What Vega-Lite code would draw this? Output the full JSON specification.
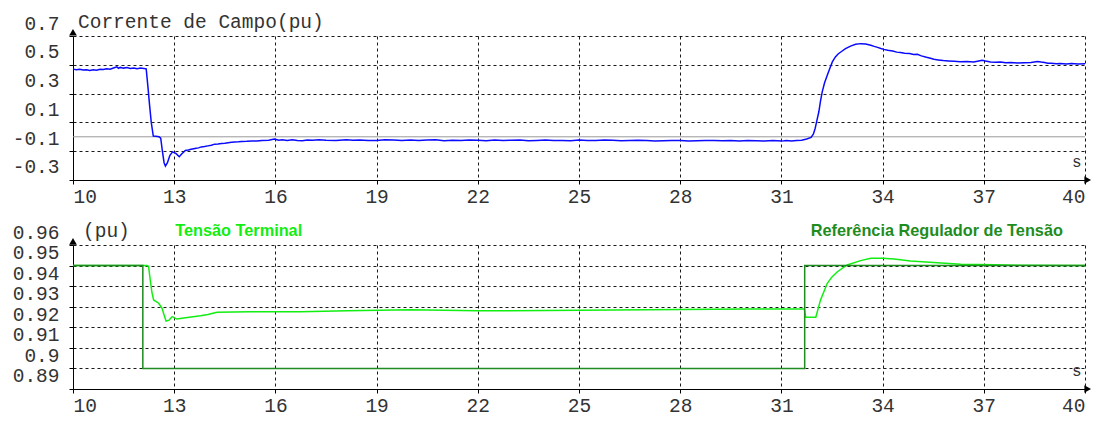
{
  "$schema": "https://vega.github.io/schema/vega-lite/v6.json",
  "background": "white",
  "padding": {"left": 12, "top": 12, "right": 5, "bottom": 2},
  "spacing": 15,
  "config": {
    "view": {"stroke": null},
    "axis": {
      "labelFont": "Liberation Mono", "labelFontSize": 19.5, "labelColor": "#333333", "labelOverlap": false,
      "domainColor": "#000000", "domainWidth": 1, "tickColor": "#000000", "tickSize": 4, "tickWidth": 1, "tickCount": 40,
      "grid": true, "gridColor": "#000000", "gridDash": [3, 3], "gridWidth": 1, "gridOpacity": 0.9
    },
    "axisX": {
      "labelPadding": 3, "titleFont": "Liberation Mono", "titleFontSize": 16, "titleFontWeight": "normal",
      "titleColor": "#333333", "titleAnchor": "end", "titleAlign": "right", "titleBaseline": "alphabetic",
      "titleX": 1008, "titleY": -14
    },
    "axisY": {"labelPadding": 10, "labelOffset": -13, "minExtent": 61, "maxExtent": 61, "title": null, "labelOverlap": false}
  },
  "datasets": {
    "campo": [
      {"t": 10.0, "v": 0.470}, {"t": 10.1, "v": 0.466}, {"t": 10.2, "v": 0.469}, {"t": 10.3, "v": 0.464}, {"t": 10.4, "v": 0.466}, {"t": 10.5, "v": 0.461}, {"t": 10.6, "v": 0.465},
      {"t": 10.7, "v": 0.463}, {"t": 10.8, "v": 0.469}, {"t": 10.9, "v": 0.467}, {"t": 11.0, "v": 0.473}, {"t": 11.1, "v": 0.470}, {"t": 11.2, "v": 0.478}, {"t": 11.3, "v": 0.486},
      {"t": 11.35, "v": 0.476}, {"t": 11.4, "v": 0.482}, {"t": 11.5, "v": 0.477}, {"t": 11.6, "v": 0.481}, {"t": 11.7, "v": 0.475}, {"t": 11.8, "v": 0.478}, {"t": 11.9, "v": 0.473},
      {"t": 12.0, "v": 0.477}, {"t": 12.1, "v": 0.474}, {"t": 12.17, "v": 0.472}, {"t": 12.22, "v": 0.35}, {"t": 12.27, "v": 0.22},
      {"t": 12.32, "v": 0.10}, {"t": 12.38, "v": 0.005}, {"t": 12.45, "v": 0.004}, {"t": 12.55, "v": 0.0},
      {"t": 12.6, "v": -0.01}, {"t": 12.65, "v": -0.10}, {"t": 12.7, "v": -0.18}, {"t": 12.74, "v": -0.203},
      {"t": 12.8, "v": -0.18}, {"t": 12.87, "v": -0.13}, {"t": 12.95, "v": -0.105}, {"t": 13.05, "v": -0.115},
      {"t": 13.15, "v": -0.138}, {"t": 13.22, "v": -0.12}, {"t": 13.33, "v": -0.095}, {"t": 13.42, "v": -0.092}, {"t": 13.5, "v": -0.087},
      {"t": 13.58, "v": -0.083}, {"t": 13.65, "v": -0.080}, {"t": 13.72, "v": -0.077}, {"t": 13.8, "v": -0.070}, {"t": 13.9, "v": -0.068}, {"t": 14.0, "v": -0.063}, {"t": 14.1, "v": -0.058}, {"t": 14.2, "v": -0.051},
      {"t": 14.3, "v": -0.050}, {"t": 14.4, "v": -0.046}, {"t": 14.5, "v": -0.044}, {"t": 14.6, "v": -0.041}, {"t": 14.7, "v": -0.038}, {"t": 14.8, "v": -0.036}, {"t": 14.9, "v": -0.035}, {"t": 15.0, "v": -0.032},
      {"t": 15.15, "v": -0.031}, {"t": 15.3, "v": -0.029}, {"t": 15.45, "v": -0.030}, {"t": 15.6, "v": -0.026}, {"t": 15.8, "v": -0.024}, {"t": 15.97, "v": -0.016}, {"t": 16.1, "v": -0.024}, {"t": 16.2, "v": -0.021},
      {"t": 16.35, "v": -0.026}, {"t": 16.5, "v": -0.021}, {"t": 16.65, "v": -0.025}, {"t": 16.8, "v": -0.028}, {"t": 16.95, "v": -0.022}, {"t": 17.1, "v": -0.024}, {"t": 17.3, "v": -0.020}, {"t": 17.5, "v": -0.024},
      {"t": 17.8, "v": -0.025}, {"t": 18.1, "v": -0.020}, {"t": 18.3, "v": -0.024}, {"t": 18.5, "v": -0.022}, {"t": 18.75, "v": -0.025}, {"t": 19.0, "v": -0.026},
      {"t": 19.25, "v": -0.021}, {"t": 19.5, "v": -0.023}, {"t": 19.75, "v": -0.026}, {"t": 20.0, "v": -0.022}, {"t": 20.25, "v": -0.025}, {"t": 20.5, "v": -0.023}, {"t": 20.75, "v": -0.021}, {"t": 21.0, "v": -0.027},
      {"t": 21.25, "v": -0.024}, {"t": 21.5, "v": -0.026}, {"t": 21.75, "v": -0.022}, {"t": 22.0, "v": -0.024}, {"t": 22.25, "v": -0.027}, {"t": 22.5, "v": -0.023}, {"t": 22.75, "v": -0.025}, {"t": 23.0, "v": -0.024},
      {"t": 23.25, "v": -0.022}, {"t": 23.5, "v": -0.027}, {"t": 23.75, "v": -0.025}, {"t": 24.0, "v": -0.023}, {"t": 24.25, "v": -0.026}, {"t": 24.5, "v": -0.025}, {"t": 24.75, "v": -0.028}, {"t": 25.0, "v": -0.022},
      {"t": 25.25, "v": -0.025}, {"t": 25.5, "v": -0.026}, {"t": 25.75, "v": -0.023}, {"t": 26.0, "v": -0.024}, {"t": 26.25, "v": -0.027}, {"t": 26.5, "v": -0.026}, {"t": 26.75, "v": -0.024}, {"t": 27.0, "v": -0.025},
      {"t": 27.25, "v": -0.029}, {"t": 27.5, "v": -0.027}, {"t": 27.75, "v": -0.025}, {"t": 28.0, "v": -0.026}, {"t": 28.25, "v": -0.030}, {"t": 28.5, "v": -0.028}, {"t": 28.75, "v": -0.026}, {"t": 29.0, "v": -0.025},
      {"t": 29.25, "v": -0.028}, {"t": 29.5, "v": -0.026}, {"t": 29.75, "v": -0.029}, {"t": 30.0, "v": -0.025}, {"t": 30.25, "v": -0.027}, {"t": 30.5, "v": -0.029}, {"t": 30.75, "v": -0.026}, {"t": 31.0, "v": -0.030},
      {"t": 31.15, "v": -0.025}, {"t": 31.3, "v": -0.029}, {"t": 31.45, "v": -0.026}, {"t": 31.6, "v": -0.024}, {"t": 31.75, "v": -0.015}, {"t": 31.88, "v": -0.004},
      {"t": 31.95, "v": 0.02}, {"t": 32.0, "v": 0.058}, {"t": 32.05, "v": 0.11}, {"t": 32.11, "v": 0.174},
      {"t": 32.16, "v": 0.25}, {"t": 32.21, "v": 0.312}, {"t": 32.28, "v": 0.375}, {"t": 32.36, "v": 0.427},
      {"t": 32.44, "v": 0.478}, {"t": 32.51, "v": 0.52}, {"t": 32.6, "v": 0.555}, {"t": 32.68, "v": 0.575}, {"t": 32.76, "v": 0.589},
      {"t": 32.9, "v": 0.612}, {"t": 33.05, "v": 0.630}, {"t": 33.2, "v": 0.642}, {"t": 33.35, "v": 0.647},
      {"t": 33.5, "v": 0.645}, {"t": 33.65, "v": 0.636}, {"t": 33.75, "v": 0.628}, {"t": 33.85, "v": 0.621}, {"t": 33.95, "v": 0.613}, {"t": 34.04, "v": 0.607},
      {"t": 34.15, "v": 0.601}, {"t": 34.3, "v": 0.596}, {"t": 34.42, "v": 0.588}, {"t": 34.53, "v": 0.585}, {"t": 34.65, "v": 0.580}, {"t": 34.8, "v": 0.578}, {"t": 34.92, "v": 0.571}, {"t": 35.03, "v": 0.573},
      {"t": 35.15, "v": 0.562}, {"t": 35.3, "v": 0.552}, {"t": 35.42, "v": 0.545}, {"t": 35.52, "v": 0.538}, {"t": 35.65, "v": 0.534}, {"t": 35.8, "v": 0.530}, {"t": 35.95, "v": 0.527}, {"t": 36.12, "v": 0.524},
      {"t": 36.3, "v": 0.521}, {"t": 36.5, "v": 0.523}, {"t": 36.7, "v": 0.520}, {"t": 36.85, "v": 0.527}, {"t": 36.95, "v": 0.532}, {"t": 37.05, "v": 0.526}, {"t": 37.2, "v": 0.520},
      {"t": 37.35, "v": 0.517}, {"t": 37.5, "v": 0.519}, {"t": 37.65, "v": 0.514}, {"t": 37.8, "v": 0.516}, {"t": 38.0, "v": 0.513}, {"t": 38.2, "v": 0.515}, {"t": 38.4, "v": 0.516}, {"t": 38.59, "v": 0.523},
      {"t": 38.7, "v": 0.519}, {"t": 38.8, "v": 0.516}, {"t": 38.9, "v": 0.511}, {"t": 39.0, "v": 0.510}, {"t": 39.15, "v": 0.507}, {"t": 39.28, "v": 0.509}, {"t": 39.45, "v": 0.506}, {"t": 39.6, "v": 0.509},
      {"t": 39.8, "v": 0.506}, {"t": 40.0, "v": 0.507}
    ],
    "zero": [{"v": 0}],
    "titulo": [{"t": 10, "v": 0.7, "texto": "Corrente de Campo(pu)"}],
    "setaTopo1": [{"t": 10, "v": 0.726}],
    "setaDir1": [{"t": 40.08, "v": -0.3}],
    "terminal": [
      {"t": 10.0, "v": 0.95}, {"t": 12.19, "v": 0.95}, {"t": 12.24, "v": 0.9497}, {"t": 12.29, "v": 0.943},
      {"t": 12.34, "v": 0.937}, {"t": 12.39, "v": 0.9333}, {"t": 12.54, "v": 0.9317}, {"t": 12.64, "v": 0.9292},
      {"t": 12.7, "v": 0.926}, {"t": 12.76, "v": 0.923}, {"t": 12.85, "v": 0.9235}, {"t": 12.94, "v": 0.9252},
      {"t": 13.08, "v": 0.924}, {"t": 13.23, "v": 0.9244}, {"t": 13.5, "v": 0.925}, {"t": 13.78, "v": 0.9256},
      {"t": 14.0, "v": 0.9262}, {"t": 14.27, "v": 0.9273}, {"t": 15.26, "v": 0.9276}, {"t": 16.74, "v": 0.9276},
      {"t": 18.13, "v": 0.928}, {"t": 20.0, "v": 0.9285}, {"t": 22.0, "v": 0.928}, {"t": 24.0, "v": 0.9282},
      {"t": 26.0, "v": 0.9284}, {"t": 28.0, "v": 0.9286}, {"t": 30.08, "v": 0.9289}, {"t": 31.68, "v": 0.9289},
      {"t": 31.72, "v": 0.9249}, {"t": 32.02, "v": 0.9249}, {"t": 32.16, "v": 0.9333}, {"t": 32.36, "v": 0.9414},
      {"t": 32.5, "v": 0.9445}, {"t": 32.66, "v": 0.947}, {"t": 32.95, "v": 0.9503}, {"t": 33.35, "v": 0.9524},
      {"t": 33.65, "v": 0.9535}, {"t": 34.0, "v": 0.9536}, {"t": 34.34, "v": 0.9532}, {"t": 34.83, "v": 0.9522},
      {"t": 35.63, "v": 0.9514}, {"t": 36.32, "v": 0.9506}, {"t": 37.3, "v": 0.9504}, {"t": 38.0, "v": 0.9502},
      {"t": 40.0, "v": 0.9500}
    ],
    "referencia": [
      {"t": 10.0, "v": 0.95}, {"t": 12.07, "v": 0.90}, {"t": 31.69, "v": 0.95}, {"t": 40.0, "v": 0.95}
    ],
    "rotulos": [
      {"t": 13.03, "v": 0.96, "serie": "Tensão Terminal"},
      {"t": 31.87, "v": 0.96, "serie": "Referência Regulador de Tensão"}
    ],
    "pu": [{"t": 10, "v": 0.96, "texto": "(pu)"}],
    "setaTopo2": [{"t": 10, "v": 0.9618}],
    "setaDir2": [{"t": 40.08, "v": 0.89}]
  },
  "vconcat": [
    {
      "width": 1012,
      "height": 144,
      "layer": [
        {
          "data": {"name": "zero"},
          "mark": {"type": "rule", "color": "#999999", "strokeWidth": 1},
          "encoding": {
            "y": {"field": "v", "type": "quantitative", "scale": {"domain": [-0.3000001, 0.7000001], "nice": false, "zero": false},
                  "axis": {"values": [-0.3, -0.1, 0.1, 0.3, 0.5, 0.7], "labelExpr": "'' + datum.value", "labelOverlap": false, "tickCount": 40}}
          }
        },
        {
          "data": {"name": "campo"},
          "mark": {"type": "line", "color": "#0a0aff", "strokeWidth": 1.5},
          "encoding": {
            "x": {"field": "t", "type": "quantitative", "scale": {"domain": [10, 40.00001], "nice": false, "zero": false},
                  "axis": {"values": [10, 13, 16, 19, 22, 25, 28, 31, 34, 37, 40], "title": "s", "labelOverlap": false, "tickCount": 40}},
            "y": {"field": "v", "type": "quantitative"}
          }
        },
        {
          "data": {"name": "titulo"},
          "mark": {"type": "text", "align": "left", "baseline": "alphabetic", "dx": 5, "dy": -8,
                   "font": "Liberation Mono", "fontSize": 19.5, "color": "#333333"},
          "encoding": {
            "x": {"field": "t", "type": "quantitative"},
            "y": {"field": "v", "type": "quantitative"},
            "text": {"field": "texto"}
          }
        },
        {
          "data": {"name": "setaTopo1"},
          "mark": {"type": "point", "shape": "triangle-up", "filled": true, "color": "#000000", "size": 60, "opacity": 1},
          "encoding": {"x": {"field": "t", "type": "quantitative"}, "y": {"field": "v", "type": "quantitative"}}
        },
        {
          "data": {"name": "setaDir1"},
          "mark": {"type": "point", "shape": "triangle-right", "filled": true, "color": "#000000", "size": 60, "opacity": 1},
          "encoding": {"x": {"field": "t", "type": "quantitative"}, "y": {"field": "v", "type": "quantitative"}}
        }
      ]
    },
    {
      "width": 1012,
      "height": 144,
      "layer": [
        {
          "data": {"name": "terminal"},
          "mark": {"type": "line", "strokeWidth": 1.5},
          "encoding": {
            "x": {"field": "t", "type": "quantitative", "scale": {"domain": [10, 40.00001], "nice": false, "zero": false},
                  "axis": {"values": [10, 13, 16, 19, 22, 25, 28, 31, 34, 37, 40], "title": "s", "labelOverlap": false, "tickCount": 40}},
            "y": {"field": "v", "type": "quantitative", "scale": {"domain": [0.8899999, 0.9600001], "nice": false, "zero": false},
                  "axis": {"values": [0.89, 0.9, 0.91, 0.92, 0.93, 0.94, 0.95, 0.96], "labelExpr": "'' + datum.value", "labelOverlap": false, "tickCount": 40}},
            "color": {"datum": "Tensão Terminal", "type": "nominal",
                      "scale": {"domain": ["Tensão Terminal", "Referência Regulador de Tensão"], "range": ["#11ee11", "#1e8c1e"]},
                      "legend": null}
          }
        },
        {
          "data": {"name": "referencia"},
          "mark": {"type": "line", "strokeWidth": 1.5, "interpolate": "step-after"},
          "encoding": {
            "x": {"field": "t", "type": "quantitative"},
            "y": {"field": "v", "type": "quantitative"},
            "color": {"datum": "Referência Regulador de Tensão", "type": "nominal"}
          }
        },
        {
          "data": {"name": "rotulos"},
          "mark": {"type": "text", "align": "left", "baseline": "alphabetic", "dy": -9,
                   "font": "Liberation Sans", "fontWeight": "bold", "fontSize": 16.3},
          "encoding": {
            "x": {"field": "t", "type": "quantitative"},
            "y": {"field": "v", "type": "quantitative"},
            "text": {"field": "serie"},
            "color": {"field": "serie", "type": "nominal"}
          }
        },
        {
          "data": {"name": "pu"},
          "mark": {"type": "text", "align": "left", "baseline": "alphabetic", "dx": 10, "dy": -8,
                   "font": "Liberation Mono", "fontSize": 19.5, "color": "#333333"},
          "encoding": {
            "x": {"field": "t", "type": "quantitative"},
            "y": {"field": "v", "type": "quantitative"},
            "text": {"field": "texto"}
          }
        },
        {
          "data": {"name": "setaTopo2"},
          "mark": {"type": "point", "shape": "triangle-up", "filled": true, "color": "#000000", "size": 60, "opacity": 1},
          "encoding": {"x": {"field": "t", "type": "quantitative"}, "y": {"field": "v", "type": "quantitative"}}
        },
        {
          "data": {"name": "setaDir2"},
          "mark": {"type": "point", "shape": "triangle-right", "filled": true, "color": "#000000", "size": 60, "opacity": 1},
          "encoding": {"x": {"field": "t", "type": "quantitative"}, "y": {"field": "v", "type": "quantitative"}}
        }
      ]
    }
  ]
}
